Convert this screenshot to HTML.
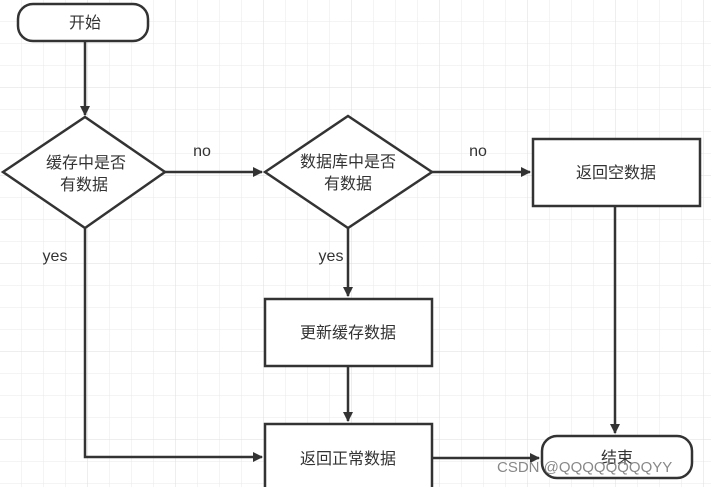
<!DOCTYPE html>
<html><head><meta charset="utf-8"><style>
html,body{margin:0;padding:0;background:#fff;}
svg{display:block;}
text{font-family:"Liberation Sans","Noto Sans CJK SC",sans-serif;fill:#333;}
</style></head><body>
<svg width="711" height="487" viewBox="0 0 711 487" xmlns="http://www.w3.org/2000/svg">
<defs>
<pattern id="g" width="22" height="22" patternUnits="userSpaceOnUse">
<path d="M22 0V22M0 22H22" fill="none" stroke="#e8e8e8" stroke-width="1"/>
</pattern>
<pattern id="G" width="88" height="88" patternUnits="userSpaceOnUse">
<rect width="88" height="88" fill="url(#g)"/>
<path d="M88 0V88M0 88H88" fill="none" stroke="#dedede" stroke-width="1"/>
</pattern>
<marker id="a" markerWidth="10" markerHeight="10" refX="9" refY="5" orient="auto" markerUnits="userSpaceOnUse" viewBox="0 0 10 10">
<path d="M0 0L10 5L0 10Z" fill="#333"/>
</marker>
</defs>
<rect width="711" height="487" fill="url(#G)"/>
<g stroke="#333" stroke-width="2.5" fill="#fff">
<rect x="18" y="4" width="130" height="37" rx="15"/>
<polygon points="3,172 85,117 165,172 85,228"/>
<polygon points="265,172 348,116 432,172 348,228"/>
<rect x="533" y="139" width="167" height="67"/>
<rect x="265" y="299" width="167" height="67"/>
<rect x="265" y="424" width="167" height="70"/>
<rect x="542" y="436" width="150" height="42" rx="15"/>
</g>
<g stroke="#333" stroke-width="2.5" fill="none">
<path d="M85 41V115" marker-end="url(#a)"/>
<path d="M165 172H262" marker-end="url(#a)"/>
<path d="M432 172H530" marker-end="url(#a)"/>
<path d="M85 228V457H262" marker-end="url(#a)"/>
<path d="M348 228V296" marker-end="url(#a)"/>
<path d="M348 366V421" marker-end="url(#a)"/>
<path d="M432 458H539" marker-end="url(#a)"/>
<path d="M615 206V433" marker-end="url(#a)"/>
</g>
<g font-size="16" text-anchor="middle">
<text x="85" y="28">开始</text>
<text x="86" y="168">缓存中是否</text>
<text x="84" y="190">有数据</text>
<text x="348" y="167">数据库中是否</text>
<text x="348" y="189">有数据</text>
<text x="616" y="178">返回空数据</text>
<text x="348" y="338">更新缓存数据</text>
<text x="348" y="464">返回正常数据</text>
<text x="617" y="463">结束</text>
<text x="202" y="156">no</text>
<text x="478" y="156">no</text>
<text x="55" y="261">yes</text>
<text x="331" y="261">yes</text>
</g>
<text x="497" y="472" font-size="15" style="fill:#888">CSDN @QQQQQQQQYY</text>
</svg>
</body></html>
